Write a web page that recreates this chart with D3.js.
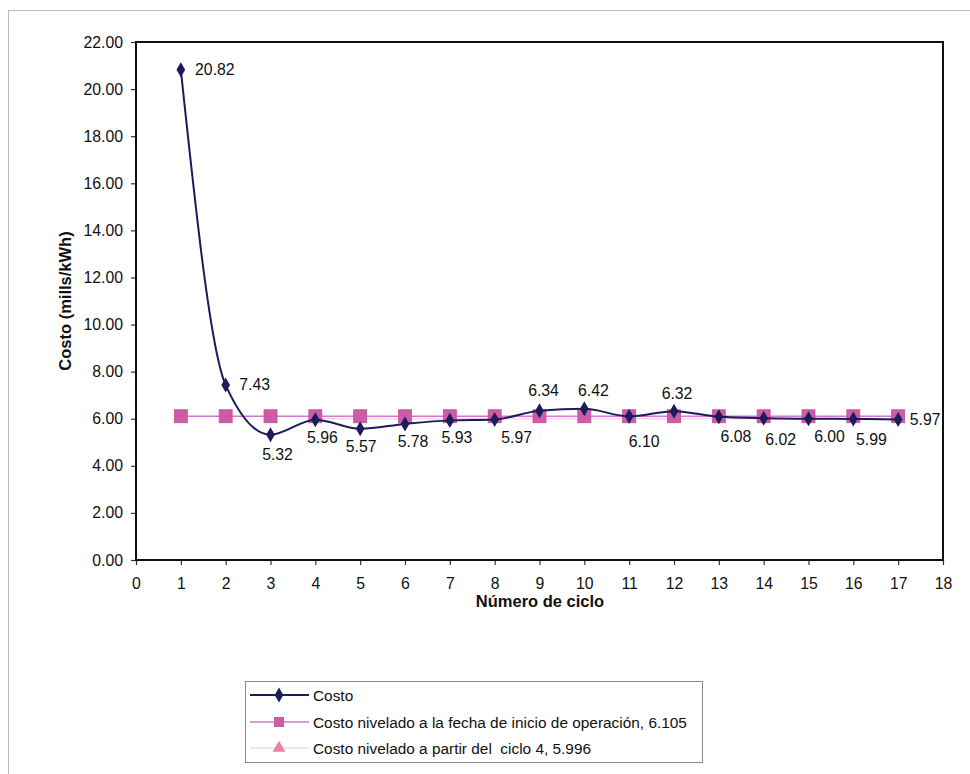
<!DOCTYPE html>
<html><head><meta charset="utf-8">
<script src="https://cdn.jsdelivr.net/npm/d3@7"></script>
<style>body{margin:0;background:#fff}svg{display:block}text{font-family:"Liberation Sans",Arial,sans-serif}</style>
</head><body><svg id="c" width="970" height="774"></svg>
<script>
const cycles = [1,2,3,4,5,6,7,8,9,10,11,12,13,14,15,16,17];
const costo = [20.82,7.43,5.32,5.96,5.57,5.78,5.93,5.97,6.34,6.42,6.10,6.32,6.08,6.02,6.00,5.99,5.97];
const nivelado = 6.105;
const niveladoCiclo4 = 5.996;
const niveladoCiclo4Start = 4;
const xTicks = d3.range(0,19);
const yTicks = [0,2,4,6,8,10,12,14,16,18,20,22];
const seriesNames = ["Costo","Costo nivelado a la fecha de inicio de operación, 6.105","Costo nivelado a partir del  ciclo 4, 5.996"];
// label placement per point: [dx, dy] of label centre relative to the point
const labelOffsets = [[34,0],[29,-1],[7,20],[7,18],[1,18],[8,18],[7,17],[22,18],[4,-20],[9,-18],[15,25],[3,-18],[17,20],[17,21],[21,18],[18,21],[27,0]];

const svg = d3.select("#c");
svg.append("rect").attr("x",8.5).attr("y",10.5).attr("width",990).attr("height",800)
  .attr("fill","none").attr("stroke","#bbb").attr("stroke-width",1);

const L=136,R=943,T=42,B=560;
const x = d3.scaleLinear().domain([0,18]).range([L,R]);
const y = d3.scaleLinear().domain([0,22]).range([B,T]);
const FS = 15.8;

// axes
const xa = svg.append("g").attr("transform",`translate(0,${B})`)
  .call(d3.axisBottom(x).tickValues(xTicks).tickSize(5).tickPadding(13).tickFormat(d3.format("d")));
const ya = svg.append("g").attr("transform",`translate(${L},0)`)
  .call(d3.axisLeft(y).tickValues(yTicks).tickSize(5).tickPadding(8).tickFormat(d3.format(".2f")));
[xa,ya].forEach(g=>{g.select(".domain").remove();
  g.selectAll("line").attr("stroke","#333").attr("stroke-width",1.2);
  g.selectAll("text").attr("font-size",FS).attr("fill","#111").attr("font-family","Liberation Sans, Arial, sans-serif");});
svg.append("rect").attr("x",L).attr("y",T).attr("width",R-L).attr("height",B-T)
  .attr("fill","none").attr("stroke","#111").attr("stroke-width",2);

svg.append("text").attr("x",540).attr("y",607).attr("text-anchor","middle")
  .attr("font-size",16.5).attr("font-weight","bold").attr("fill","#111").text("Número de ciclo");
svg.append("text").attr("transform",`translate(71,${(T+B)/2}) rotate(-90)`).attr("text-anchor","middle")
  .attr("font-size",16.5).attr("font-weight","bold").attr("fill","#111").text("Costo (mills/kWh)");

const navy="#1c1c5a", magLine="#d27ad0", magSq="#cc5ca6", triC="#e8809e", triLine="#f3d8e4";

// series 3: levelized from cycle 4
const c4 = cycles.filter(c=>c>=niveladoCiclo4Start);
svg.append("path").datum(c4).attr("fill","none").attr("stroke",triLine).attr("stroke-width",1.5)
  .attr("d",d3.line().x(d=>x(d)).y(()=>y(niveladoCiclo4)));
const tri = d3.symbol().type(d3.symbolTriangle).size(70);
svg.selectAll(".tri").data(c4).join("path").attr("transform",d=>`translate(${x(d)},${y(niveladoCiclo4)})`)
  .attr("d",tri).attr("fill",triC);

// series 2: levelized
svg.append("path").datum(cycles).attr("fill","none").attr("stroke",magLine).attr("stroke-width",1.6)
  .attr("d",d3.line().x(d=>x(d)).y(()=>y(nivelado)));
svg.selectAll(".sq").data(cycles).join("rect").attr("x",d=>x(d)-6.5).attr("y",y(nivelado)-6.5)
  .attr("width",13).attr("height",13).attr("fill",magSq).attr("stroke","#c54f9a").attr("stroke-width",0.8);

// series 1: costo (smoothed)
const pts = cycles.map((c,i)=>[c,costo[i]]);
svg.append("path").datum(pts).attr("fill","none").attr("stroke",navy).attr("stroke-width",2)
  .attr("d",d3.line().x(d=>x(d[0])).y(d=>y(d[1])).curve(d3.curveMonotoneX));
const dia = d3.symbol().type(d3.symbolDiamond).size(65);
svg.selectAll(".dia").data(pts).join("path").attr("transform",d=>`translate(${x(d[0])},${y(d[1])})`)
  .attr("d",dia).attr("fill",navy);

// data labels
svg.selectAll(".lbl").data(pts).join("text")
  .attr("x",(d,i)=>x(d[0])+labelOffsets[i][0]).attr("y",(d,i)=>y(d[1])+labelOffsets[i][1]+5.5)
  .attr("text-anchor","middle").attr("font-size",FS).attr("fill","#111")
  .text(d=>d3.format(".2f")(d[1]));

// legend
const lg = svg.append("g");
lg.append("rect").attr("x",245.5).attr("y",681.5).attr("width",457).attr("height",81)
  .attr("fill","#fff").attr("stroke","#888").attr("stroke-width",1);
const rows=[695,722,748];
lg.append("line").attr("x1",250).attr("x2",309).attr("y1",rows[0]).attr("y2",rows[0]).attr("stroke",navy).attr("stroke-width",2);
lg.append("path").attr("transform",`translate(279,${rows[0]})`).attr("d",dia).attr("fill",navy);
lg.append("line").attr("x1",250).attr("x2",309).attr("y1",rows[1]).attr("y2",rows[1]).attr("stroke",magLine).attr("stroke-width",1.6);
lg.append("rect").attr("x",274).attr("y",rows[1]-5).attr("width",10).attr("height",10).attr("fill",magSq);
lg.append("line").attr("x1",250).attr("x2",309).attr("y1",rows[2]).attr("y2",rows[2]).attr("stroke",triLine).attr("stroke-width",1.5);
lg.append("path").attr("transform",`translate(279,${rows[2]})`).attr("d",tri).attr("fill",triC);
lg.selectAll(".lt").data(seriesNames).join("text").attr("x",313).attr("y",(d,i)=>rows[i]+5.5)
  .attr("font-size",15.4).attr("fill","#111").style("white-space","pre").text(d=>d);
</script></body></html>
